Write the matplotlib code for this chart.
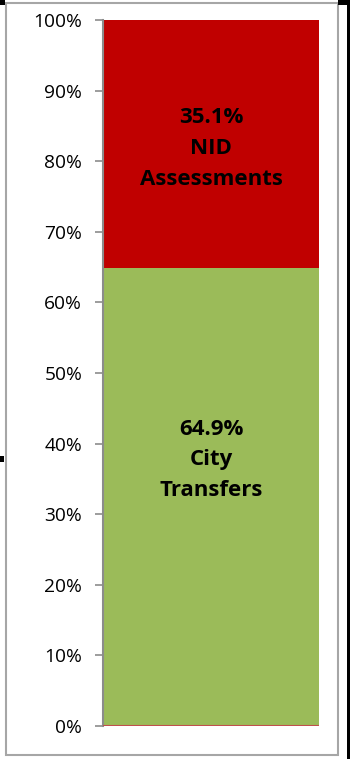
import matplotlib
matplotlib.use("Agg")
import matplotlib.pyplot as plt
from matplotlib.patches import Rectangle

categories = [""]
series_names = ["City\nTransfers", "NID\nAssessments"]
series_values = [0.649, 0.351]
series_colors = ["#9BBB59", "#C00000"]
tick_values = [0, 0.1, 0.2, 0.3, 0.4, 0.5, 0.6, 0.7, 0.8, 0.9, 1.0]
tick_labels = ["0%", "10%", "20%", "30%", "40%", "50%", "60%", "70%", "80%", "90%", "100%"]
label_y = [0.377, 0.818]

W, H = 350, 759
fig = plt.figure(figsize=(W / 100, H / 100), dpi=100)
fig.patch.set_facecolor("white")

# outer frame
fig.add_artist(Rectangle((5.5 / W, 4 / H), 332.5 / W, 752 / H, transform=fig.transFigure,
                         fill=False, edgecolor="#A6A6A6", linewidth=1.5))
# black edge artifacts
fig.add_artist(Rectangle((347 / W, 0), 3 / W, 1, transform=fig.transFigure,
                         facecolor="black", edgecolor="none"))
fig.add_artist(Rectangle((338 / W, 1 - 5 / H), 12 / W, 5 / H, transform=fig.transFigure,
                         facecolor="black", edgecolor="none"))
fig.add_artist(Rectangle((0, 1 - 5 / H), 5 / W, 5 / H, transform=fig.transFigure,
                         facecolor="black", edgecolor="none"))
fig.add_artist(Rectangle((0, 1 - 462 / H), 4 / W, 6 / H, transform=fig.transFigure,
                         facecolor="black", edgecolor="none"))

ax = fig.add_axes([103 / W, 33 / H, 216 / W, 706 / H])
ax.set_xlim(-0.5, 0.5)
ax.set_ylim(0, 1)

bottom = 0
for name, val, col in zip(series_names, series_values, series_colors):
    ax.bar(0, val, width=1.0, bottom=bottom, color=col, edgecolor="none", align="center")
    bottom += val
# thin red line at baseline
ax.axhline(0, color="#C0504D", linewidth=1.5, zorder=5)

font = "Open Sans"
for name, val, yy in zip(series_names, series_values, label_y):
    ax.text(0, yy, f"{val * 100:.1f}%\n{name}", ha="center", va="center",
            fontsize=16, fontweight="bold", family=font, linespacing=1.6, color="black")

ax.set_yticks(tick_values)
ax.set_yticklabels(tick_labels, family=font, fontsize=13.8)
ax.set_xticks([])
for s in ["top", "right", "bottom"]:
    ax.spines[s].set_visible(False)
ax.spines["left"].set_color("#8C8C8C")
ax.spines["left"].set_linewidth(1.5)
ax.tick_params(axis="y", length=6, width=1.2, color="#8C8C8C", pad=9)

fig.savefig("out.png", dpi=100)
